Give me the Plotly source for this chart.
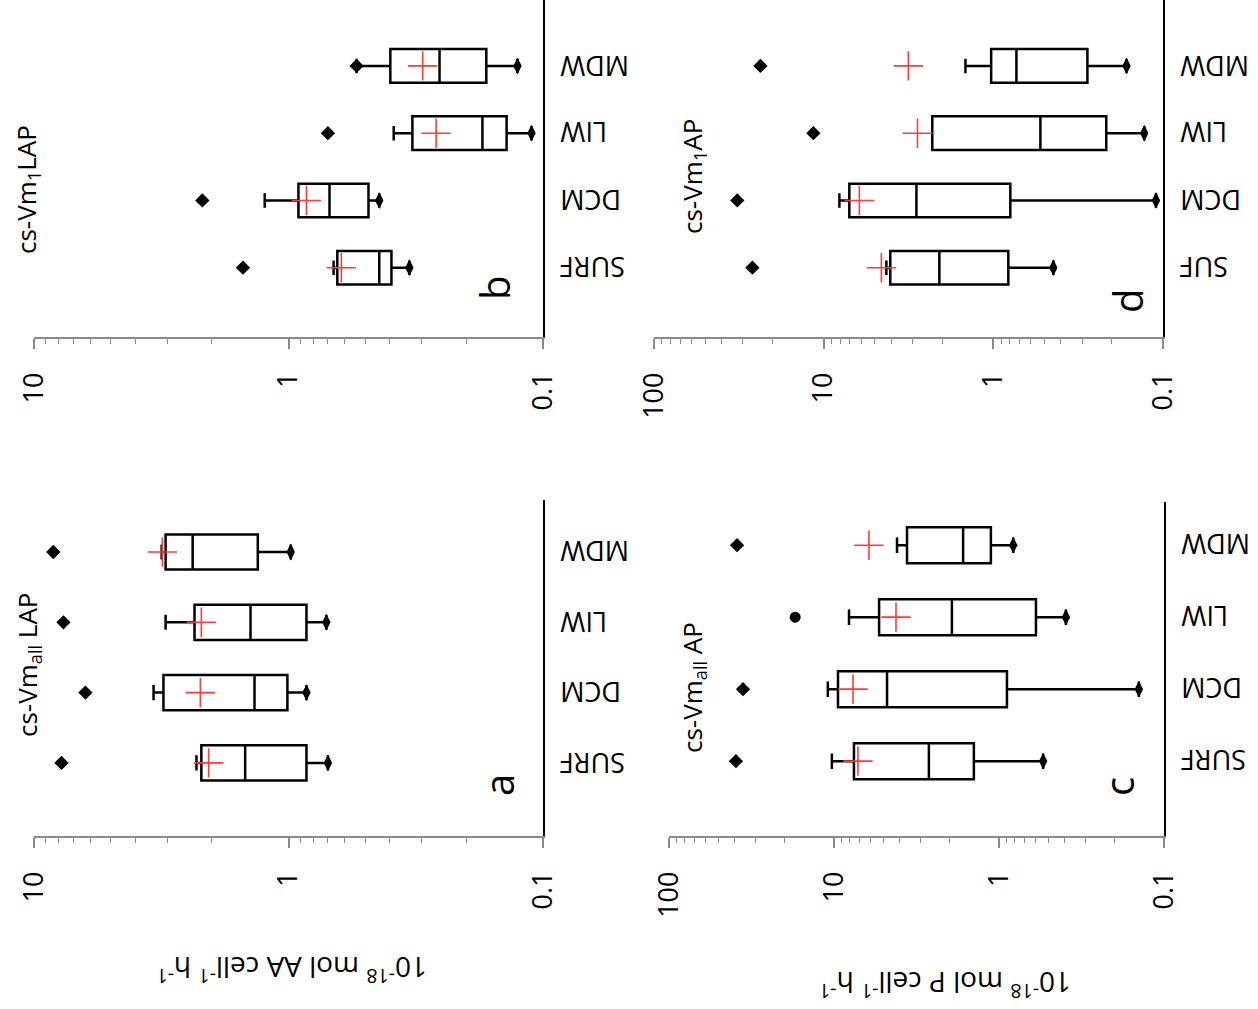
import plotly.graph_objects as go

W, H = 1258, 1009

# ---- data: five-number summaries, extremes and means per water mass ----
cats_abc = ["SURF", "DCM", "LIW", "MDW"]
cats_d = ["SUF", "DCM", "LIW", "MDW"]

# panel a: cs-Vm_all LAP (10^-18 mol AA cell^-1 h^-1)
a_q1 = [0.85, 1.01, 0.85, 1.32]
a_med = [1.48, 1.36, 1.41, 2.38]
a_q3 = [2.20, 3.10, 2.34, 3.04]
a_lo = [0.70, 0.85, 0.71, 0.98]
a_hi = [2.30, 3.39, 3.04, 3.15]
a_max = [7.8, 6.28, 7.66, 8.4]
a_mean = [2.06, 2.22, 2.20, 3.13]

# panel b: cs-Vm_1 LAP
b_q1 = [0.394, 0.485, 0.139, 0.167]
b_med = [0.44, 0.69, 0.173, 0.255]
b_q3 = [0.643, 0.914, 0.326, 0.398]
b_lo = [0.335, 0.44, 0.111, 0.126]
b_hi = [0.665, 1.24, 0.386, 0.54]
b_max = [1.51, 2.18, 0.70, 0.54]
b_mean = [0.62, 0.85, 0.263, 0.297]

# panel c: cs-Vm_all AP (10^-18 mol P cell^-1 h^-1)
c_q1 = [1.42, 0.895, 0.597, 1.12]
c_med = [2.66, 4.77, 1.93, 1.65]
c_q3 = [7.57, 9.46, 5.33, 3.61]
c_lo = [0.54, 0.142, 0.393, 0.82]
c_hi = [10.3, 10.9, 8.11, 4.15]
c_max = [39.3, 35.6, 17.2, 38.7]
c_mean = [7.16, 7.67, 4.21, 6.14]

# panel d: cs-Vm_1 AP
d_q1 = [0.816, 0.794, 0.216, 0.279]
d_med = [2.08, 2.84, 0.528, 0.731]
d_q3 = [4.05, 7.06, 2.29, 1.03]
d_lo = [0.443, 0.11, 0.129, 0.164]
d_hi = [4.27, 8.08, 2.29, 1.46]
d_max = [26.3, 32.3, 11.5, 23.6]
d_mean = [4.57, 6.16, 2.80, 3.17]

value_ticks = [0.1, 1, 10, 100]
value_ticktext = ["0.1", "1", "10", "100"]

FONT = "Open Sans"
GREY = "#8a8a8a"
RED = "#ff3b3b"


def px(x):
    return x / W


def py(y):
    return 1 - y / H


panels = [
    dict(cats=cats_abc, q1=a_q1, med=a_med, q3=a_q3, lo=a_lo, hi=a_hi, mx=a_max, mean=a_mean,
         xd=(34, 543), yd=(500, 836), xr=[1, -1], yr=[-1.04, 3.74],
         title="cs-Vm<sub>all</sub> LAP", tpos=(28, 665), letter="a", lpos=(498, 785),
         outsym=["diamond"] * 4),
    dict(cats=cats_abc, q1=b_q1, med=b_med, q3=b_q3, lo=b_lo, hi=b_hi, mx=b_max, mean=b_mean,
         xd=(34, 543), yd=(0, 337), xr=[1, -1], yr=[-1.03, 3.98],
         title="cs-Vm<sub>1</sub>LAP", tpos=(27, 190), letter="b", lpos=(494, 288),
         outsym=["diamond"] * 4),
    dict(cats=cats_abc, q1=c_q1, med=c_med, q3=c_q3, lo=c_lo, hi=c_hi, mx=c_max, mean=c_mean,
         xd=(669, 1164), yd=(502, 836), xr=[2, -1], yr=[-1.04, 3.6],
         title="cs-Vm<sub>all</sub> AP", tpos=(693, 688), letter="c", lpos=(1118, 787),
         outsym=["diamond", "diamond", "circle", "diamond"]),
    dict(cats=cats_d, q1=d_q1, med=d_med, q3=d_q3, lo=d_lo, hi=d_hi, mx=d_max, mean=d_mean,
         xd=(654, 1163), yd=(0, 337), xr=[2, -1], yr=[-1.03, 3.98],
         title="cs-Vm<sub>1</sub>AP", tpos=(693, 177), letter="d", lpos=(1128, 301),
         outsym=["diamond"] * 4),
]

fig = go.Figure()
annotations = []
layout = {}

for i, p in enumerate(panels, start=1):
    xa = "x" if i == 1 else f"x{i}"
    ya = "y" if i == 1 else f"y{i}"
    xkey = "xaxis" if i == 1 else f"xaxis{i}"
    ykey = "yaxis" if i == 1 else f"yaxis{i}"

    fig.add_trace(go.Box(
        y=p["cats"], q1=p["q1"], median=p["med"], q3=p["q3"],
        lowerfence=p["lo"], upperfence=p["hi"],
        orientation="h", boxpoints=False, width=0.5, whiskerwidth=0.43,
        fillcolor="white", line=dict(color="black", width=2.5),
        xaxis=xa, yaxis=ya, showlegend=False, hoverinfo="skip",
    ))
    # minimum values at the low whisker end
    fig.add_trace(go.Scatter(
        x=p["lo"], y=p["cats"], mode="markers",
        marker=dict(symbol="diamond-tall", size=12, color="black"),
        xaxis=xa, yaxis=ya, showlegend=False, hoverinfo="skip",
    ))
    # maximum values
    fig.add_trace(go.Scatter(
        x=p["mx"], y=p["cats"], mode="markers",
        marker=dict(symbol=p["outsym"], size=11, color="black"),
        xaxis=xa, yaxis=ya, showlegend=False, hoverinfo="skip",
    ))
    # means
    fig.add_trace(go.Scatter(
        x=p["mean"], y=p["cats"], mode="markers",
        marker=dict(symbol="cross-thin", size=21, line=dict(color=RED, width=1.6)),
        xaxis=xa, yaxis=ya, showlegend=False, hoverinfo="skip",
    ))

    lo_dec, hi_dec = min(p["xr"]), max(p["xr"])
    minor_vals = [m * 10 ** e for e in range(lo_dec, hi_dec) for m in range(2, 10)]
    major_vals = [v for v in value_ticks if 10 ** lo_dec <= v <= 10 ** hi_dec]
    major_text = [t for v, t in zip(value_ticks, value_ticktext) if v in major_vals]

    layout[xkey] = dict(
        type="log", range=p["xr"], domain=[px(p["xd"][0]), px(p["xd"][1])],
        anchor=ya, automargin=False, showline=True, linecolor=GREY, linewidth=1.5,
        ticks="outside", ticklen=10, tickwidth=1.5, tickcolor=GREY,
        tickvals=major_vals, ticktext=major_text, tickangle=-90,
        tickfont=dict(family=FONT, size=27, color="black"),
        ticklabelstandoff=13,
        showgrid=False, zeroline=False,
        minor=dict(ticks="outside", ticklen=5, tickwidth=1.3, tickcolor=GREY,
                   tickvals=minor_vals, showgrid=False),
    )
    layout[ykey] = dict(
        type="category", categoryorder="array", categoryarray=p["cats"],
        range=p["yr"], domain=[py(p["yd"][1]), py(p["yd"][0])],
        anchor=xa, automargin=False, side="right", showline=True,
        linecolor="black", linewidth=1.5,
        showticklabels=False, ticks="", showgrid=False, zeroline=False,
    )

    # category names, printed upside down beside the category axis
    for c in p["cats"]:
        annotations.append(dict(
            text=c, xref=f"{xa} domain", x=1, xshift=15, xanchor="left",
            yref=ya, y=c, yanchor="middle", textangle=180, showarrow=False,
            font=dict(family=FONT, size=27, color="black"),
        ))
    annotations.append(dict(
        text=p["title"], xref="paper", yref="paper",
        x=px(p["tpos"][0]), y=py(p["tpos"][1]), xanchor="center", yanchor="middle",
        textangle=-90, showarrow=False, font=dict(family=FONT, size=26, color="black"),
    ))
    annotations.append(dict(
        text=p["letter"], xref="paper", yref="paper",
        x=px(p["lpos"][0]), y=py(p["lpos"][1]), xanchor="center", yanchor="middle",
        textangle=-90, showarrow=False, font=dict(family=FONT, size=40, color="black"),
    ))

# value-axis titles
annotations.append(dict(
    text="10<sup>-18</sup> mol AA cell<sup>-1</sup> h<sup>-1</sup>", xref="paper", yref="paper",
    x=px(292), y=py(970), xanchor="center", yanchor="middle", textangle=180,
    showarrow=False, font=dict(family=FONT, size=28, color="black"),
))
annotations.append(dict(
    text="10<sup>-18</sup> mol P cell<sup>-1</sup> h<sup>-1</sup>", xref="paper", yref="paper",
    x=px(945), y=py(985), xanchor="center", yanchor="middle", textangle=180,
    showarrow=False, font=dict(family=FONT, size=28, color="black"),
))

fig.update_layout(
    width=W, height=H, margin=dict(l=0, r=0, t=0, b=0),
    paper_bgcolor="white", plot_bgcolor="white",
    annotations=annotations, showlegend=False,
    **layout,
)

fig.write_html("out.html")
